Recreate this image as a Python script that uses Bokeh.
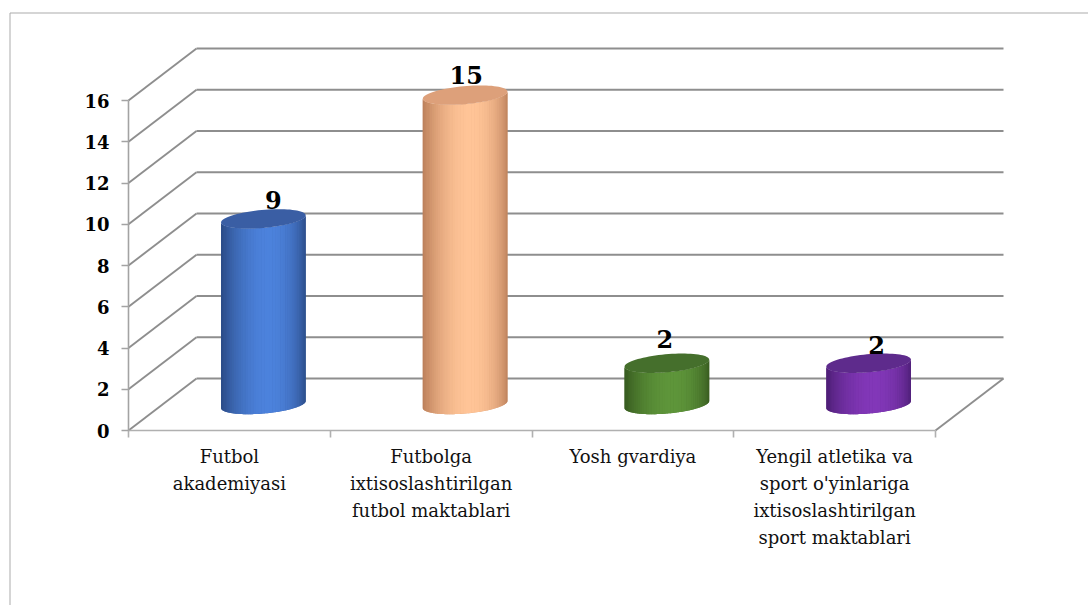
import numpy as np
from bokeh.plotting import figure
from bokeh.models import Range1d, FixedTicker
from bokeh.core.properties import value
from bokeh.embed import file_html
from bokeh.resources import INLINE

# ---------------- data ----------------
categories = [
    "Futbol\nakademiyasi",
    "Futbolga\nixtisoslashtirilgan\nfutbol maktablari",
    "Yosh gvardiya",
    "Yengil atletika va\nsport o'yinlariga\nixtisoslashtirilgan\nsport maktablari",
]
values = [9, 15, 2, 2]
y_ticks = [0, 2, 4, 6, 8, 10, 12, 14, 16]

# ---------------- style ----------------
body_dark = ["#264278", "#B07450", "#32521C", "#461C6C"]
body_light = ["#4C82DC", "#FFC497", "#5E953A", "#8237B8"]
top_colors = ["#3A5EA4", "#DDA07A", "#456F2C", "#5E2B8C"]
grid_color = "#8E8E8E"
label_dx = [10, 1, -2, 8]        # screen-pixel nudges of the value labels
label_dy = [-19, -20, -24, -18]

W, H = 1088, 605
SX, SY = 201.75, 20.625          # pixels per x unit / per y unit
x_start = -128 / SX
x_end = x_start + W / SX
y_end = 430 / SY
y_start = y_end - H / SY
DX, DY = 68 / SX, 52 / SY        # depth (3D) offset
n_cat = len(values)
ymax = y_ticks[-1]

p = figure(width=W, height=H, x_range=Range1d(x_start, x_end),
           y_range=Range1d(y_start, y_end), output_backend="svg",
           toolbar_location=None, min_border=0)
p.outline_line_color = None
p.grid.visible = False
p.background_fill_color = "white"
p.border_fill_color = "white"

# chart border (top and left edges; the rest lies outside the window)
bx = x_start + 9.5 / SX
by = y_end - 12.5 / SY
p.segment(x0=[bx, bx], y0=[by, by], x1=[x_end + 2, bx], y1=[by, y_start - 10],
          line_color="#ABABAB", line_width=1)

# back wall gridlines
p.segment(x0=[DX] * len(y_ticks), y0=[t + DY for t in y_ticks],
          x1=[n_cat + DX] * len(y_ticks), y1=[t + DY for t in y_ticks],
          line_color=grid_color, line_width=1.9)
# side wall diagonals
p.segment(x0=[0] * len(y_ticks), y0=y_ticks,
          x1=[DX] * len(y_ticks), y1=[t + DY for t in y_ticks],
          line_color=grid_color, line_width=1.9)
# floor right edge
p.segment(x0=[n_cat], y0=[0], x1=[n_cat + DX], y1=[DY],
          line_color=grid_color, line_width=1.9)

# axes
yax = p.yaxis[0]
yax.fixed_location = 0
yax.bounds = (0, ymax)
yax.ticker = FixedTicker(ticks=y_ticks)
yax.minor_tick_line_color = None
yax.major_tick_in = 0
yax.major_tick_out = 7
yax.major_label_standoff = 12
yax.axis_line_color = "#A3A3A3"
yax.axis_line_width = 1.6
yax.major_tick_line_color = "#A3A3A3"
yax.major_tick_line_width = 1.6
yax.major_label_text_font = "DejaVu Serif"
yax.major_label_text_font_style = "bold"
yax.major_label_text_font_size = "18px"
yax.major_label_text_color = "#000000"

xax = p.xaxis[0]
xax.fixed_location = 0
xax.bounds = (0, n_cat)
xax.ticker = FixedTicker(ticks=list(range(n_cat + 1)))
xax.major_label_overrides = {i: "" for i in range(n_cat + 1)}
xax.minor_tick_line_color = None
xax.major_tick_in = 0
xax.major_tick_out = 7
xax.axis_line_color = "#B0B0B0"
xax.axis_line_width = 1.6
xax.major_tick_line_color = "#B0B0B0"
xax.major_tick_line_width = 1.6

# cylinders
a, b, phi = 42.5, 9.0, np.deg2rad(5.0)


def ell(theta):
    px = a * np.cos(theta) * np.cos(phi) - b * np.sin(theta) * np.sin(phi)
    py = a * np.cos(theta) * np.sin(phi) + b * np.sin(theta) * np.cos(phi)
    return px / SX, py / SY


def mix(c1, c2, w):
    c1 = [int(c1[i:i + 2], 16) for i in (1, 3, 5)]
    c2 = [int(c2[i:i + 2], 16) for i in (1, 3, 5)]
    return "#%02x%02x%02x" % tuple(int(round(c1[k] + (c2[k] - c1[k]) * w)) for k in range(3))


N = 48
xs_all, ys_all, cols = [], [], []
base_xs, base_ys, base_cols = [], [], []
top_xs, top_ys, top_cols = [], [], []
for i, v in enumerate(values):
    cx = i + 0.5 + DX / 2
    yb = DY / 2
    yt = v + DY / 2
    th = np.linspace(np.pi, 2 * np.pi, 60)
    ex, ey = ell(th)
    base_xs.append(list(cx + ex) + list(cx + ex[::-1]))
    base_ys.append(list(yb + ey) + list(yt + ey[::-1]))
    base_cols.append(mix(body_dark[i], body_light[i], 0.5))
    edges = np.linspace(np.pi, 2 * np.pi, N + 1)
    for k in range(N):
        sub = np.linspace(edges[k], min(edges[k + 1] + 0.01, 2 * np.pi), 4)
        sx, sy = ell(sub)
        xs_all.append(list(cx + sx) + list(cx + sx[::-1]))
        ys_all.append(list(yb + sy) + list(yt + sy[::-1]))
        tm = 0.5 * (edges[k] + edges[k + 1])
        u = (1 + np.cos(tm)) / 2
        w = np.sin(np.pi * u ** 1.15) ** 0.55
        cols.append(mix(body_dark[i], body_light[i], w))
    tf = np.linspace(0, 2 * np.pi, 80)
    tx, ty = ell(tf)
    top_xs.append(list(cx + tx))
    top_ys.append(list(yt + ty))
    top_cols.append(top_colors[i])

p.patches(xs=base_xs, ys=base_ys, fill_color=base_cols, line_color=None)
p.patches(xs=xs_all, ys=ys_all, fill_color=cols, line_color=None)
p.patches(xs=top_xs, ys=top_ys, fill_color=top_cols, line_color=None)

# value labels
p.text(x=[i + 0.5 + DX / 2 for i in range(n_cat)], y=[v + DY / 2 for v in values],
       text=[str(v) for v in values], text_align="center", text_baseline="middle",
       x_offset=label_dx, y_offset=label_dy, text_font=value("DejaVu Serif"),
       text_font_style="bold", text_font_size="24px", text_color="#000000")

# category labels
p.text(x=[i + 0.5 for i in range(n_cat)], y=[0] * n_cat, text=categories,
       text_align="center", text_baseline="top", y_offset=15, text_line_height=1.3,
       text_font=value("DejaVu Serif"), text_font_size="18px", text_color="#111111")

open("out.html", "w").write(file_html(p, INLINE))
